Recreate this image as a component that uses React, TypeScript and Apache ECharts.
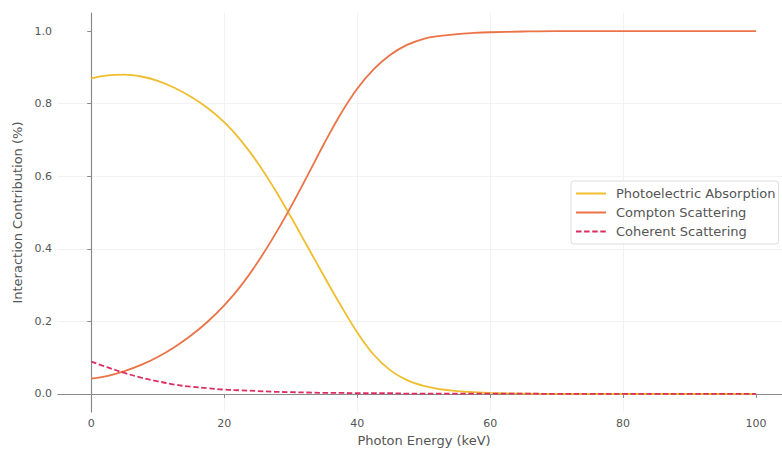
import React, { useEffect, useRef } from "react";
import * as echarts from "echarts";

const energy = [0, 2.5, 5, 7.5, 10, 12.5, 15, 17.5, 20, 22.5, 25, 27.5, 30, 32.5, 35, 37.5, 40, 42.5, 45, 47.5, 50, 52.5, 55, 57.5, 60, 65, 70, 75, 80, 85, 90, 95, 100];
const photoelectric = [0.870, 0.878, 0.880, 0.875, 0.863, 0.844, 0.819, 0.788, 0.749, 0.699, 0.638, 0.567, 0.489, 0.407, 0.325, 0.245, 0.170, 0.108, 0.065, 0.038, 0.022, 0.013, 0.008, 0.005, 0.003, 0.001, 0.0, 0.0, 0.0, 0.0, 0.0, 0.0, 0.0];
const compton = [0.042, 0.050, 0.063, 0.080, 0.102, 0.129, 0.161, 0.199, 0.244, 0.298, 0.362, 0.435, 0.515, 0.601, 0.689, 0.771, 0.841, 0.895, 0.935, 0.962, 0.979, 0.987, 0.992, 0.995, 0.997, 0.999, 1.0, 1.0, 1.0, 1.0, 1.0, 1.0, 1.0];
const coherent = [0.089, 0.073, 0.058, 0.045, 0.035, 0.026, 0.020, 0.016, 0.012, 0.010, 0.008, 0.006, 0.005, 0.004, 0.003, 0.003, 0.002, 0.002, 0.002, 0.001, 0.001, 0.001, 0.001, 0.001, 0.001, 0.001, 0.0, 0.0, 0.0, 0.0, 0.0, 0.0, 0.0];
const xTicks = [0, 20, 40, 60, 80, 100];
const yTicks = [0, 0.2, 0.4, 0.6, 0.8, 1.0];
const seriesNames = ["Photoelectric Absorption", "Compton Scattering", "Coherent Scattering"];

const FONT = "DejaVu Sans";

export default function App() {
  const ref = useRef<HTMLDivElement>(null);
  useEffect(() => {
    if (!ref.current) return;
    const chart = echarts.init(ref.current, null, { renderer: "svg" });
    const pair = (ys: number[]) => energy.map((x, i) => [x, ys[i]]);
    const mk = (name: string, ys: number[], color: string, type: any) => ({
      name,
      type: "line",
      data: pair(ys),
      showSymbol: false,
      symbol: "none",
      smooth: 0.4,
      lineStyle: { color, width: 1.8, type },
      itemStyle: { color },
    });
    chart.setOption({
      animation: false,
      backgroundColor: "#ffffff",
      grid: { left: 58, top: 13, right: 0, bottom: 35 },
      legend: {
        orient: "vertical",
        left: 571,
        top: 181,
        data: seriesNames,
        itemWidth: 30,
        itemHeight: 10,
        itemGap: 6,
        padding: [6, 3, 6, 4],
        backgroundColor: "#ffffff",
        borderColor: "#dddddd",
        borderWidth: 1,
        borderRadius: 3,
        itemStyle: { opacity: 0 },
        textStyle: { fontFamily: FONT, fontSize: 13, color: "#555555", padding: [0, 0, 0, 5] },
      },
      xAxis: {
        type: "value",
        min: -5,
        max: 103.9,
        name: "Photon Energy (keV)",
        nameLocation: "middle",
        nameGap: 20,
        nameTextStyle: { fontFamily: FONT, fontSize: 13, color: "#555555", padding: [0, 0, 0, 8] },
        axisLine: { show: true, lineStyle: { color: "#8a8a8a", width: 1.2 } },
        axisTick: { show: true, customValues: xTicks, length: 4, lineStyle: { color: "#8a8a8a" } },
        axisLabel: {
          customValues: xTicks,
          fontFamily: FONT,
          fontSize: 11,
          color: "#555555",
          margin: 6,
        },
        splitLine: { show: true, showMinLine: false, showMaxLine: false, lineStyle: { color: "#f2f2f2", width: 1 } },
      },
      yAxis: {
        type: "value",
        min: -0.05,
        max: 1.05,
        name: "Interaction Contribution (%)",
        nameLocation: "middle",
        nameGap: 29,
        nameTextStyle: { fontFamily: FONT, fontSize: 13, color: "#555555" },
        axisLine: { show: true, lineStyle: { color: "#8a8a8a", width: 1.2 } },
        axisTick: { show: true, customValues: yTicks, length: 4, lineStyle: { color: "#8a8a8a" } },
        axisLabel: {
          customValues: yTicks,
          fontFamily: FONT,
          fontSize: 11,
          color: "#555555",
          margin: 6,
          formatter: (v: number) => v.toFixed(1),
        },
        splitLine: { show: true, showMinLine: false, showMaxLine: false, lineStyle: { color: "#f2f2f2", width: 1 } },
      },
      series: [
        mk(seriesNames[0], photoelectric, "#EFBE2E", "solid"),
        mk(seriesNames[1], compton, "#EA7347", "solid"),
        mk(seriesNames[2], coherent, "#DC2E62", [5.5, 2.6]),
      ],
    });
    return () => chart.dispose();
  }, []);
  return <div ref={ref} style={{ position: "absolute", left: 0, top: 0, width: 782, height: 452 }} />;
}
